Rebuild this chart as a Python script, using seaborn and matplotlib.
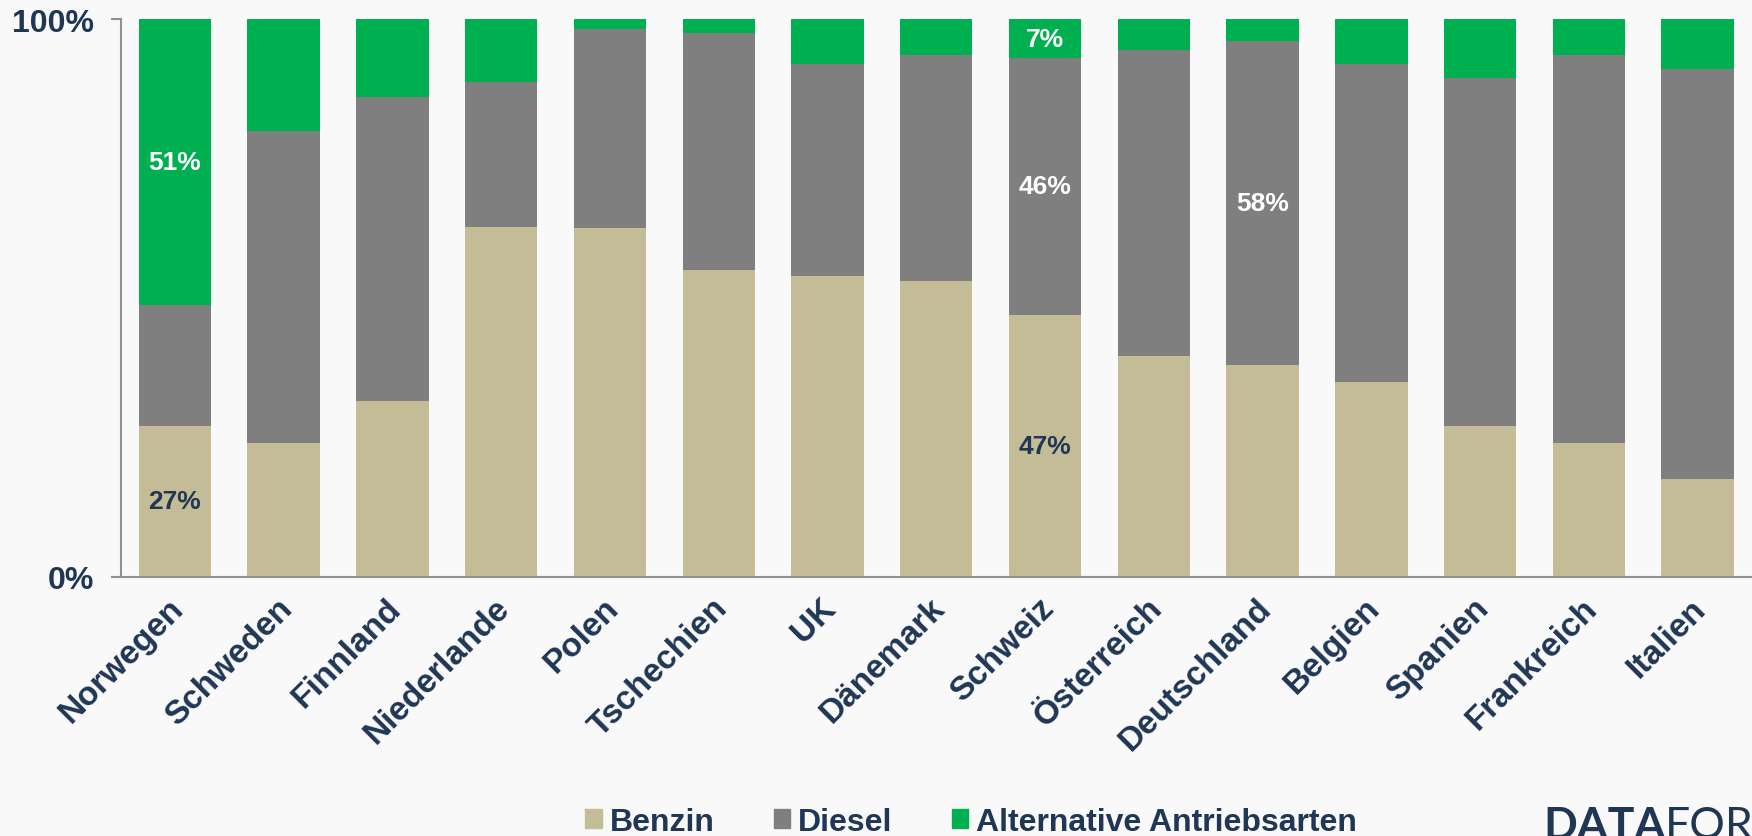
import numpy as np
import matplotlib.pyplot as plt
import matplotlib.transforms as mtransforms
from matplotlib.patches import Patch
import seaborn as sns

laender = ['Norwegen', 'Schweden', 'Finnland', 'Niederlande', 'Polen', 'Tschechien', 'UK',
           'Dänemark', 'Schweiz', 'Österreich', 'Deutschland', 'Belgien', 'Spanien',
           'Frankreich', 'Italien']
benzin = [27, 24, 31.5, 62.7, 62.5, 55, 54, 53, 47, 39.5, 38, 35, 27, 24, 17.5]
diesel = [21.7, 56, 54.5, 26, 35.7, 42.5, 38, 40.5, 46, 55, 58, 57, 62.5, 69.5, 73.5]
alternativ = [51.3, 20, 14, 11.3, 1.8, 2.5, 8, 6.5, 7, 5.5, 4, 8, 10.5, 6.5, 9]

# nur diese Werte sind im Original beschriftet: (Land, Serie)
beschriftet = [('Norwegen', 'benzin'), ('Norwegen', 'alternativ'), ('Schweiz', 'benzin'),
               ('Schweiz', 'diesel'), ('Schweiz', 'alternativ'), ('Deutschland', 'diesel')]

navy = '#1F3655'
c_benzin = '#C4BC96'
c_diesel = '#7F7F7F'
c_alt = '#00B050'
bg = '#F9F9F9'

sns.set_style('white')
plt.rcParams['font.family'] = ['Liberation Sans', 'DejaVu Sans']

fig = plt.figure(figsize=(17.52, 8.37), dpi=100, facecolor=bg)
ax = fig.add_axes([0.0688, 0.3098, 0.9312, 0.6663])
ax.set_facecolor(bg)

b = np.array(benzin)
d = np.array(diesel)
a = np.array(alternativ)

# gestapelt durch Überlagern der kumulierten Summen
sns.barplot(x=laender, y=b + d + a, color=c_alt, width=0.666, saturation=1, linewidth=0, ax=ax)
sns.barplot(x=laender, y=b + d, color=c_diesel, width=0.666, saturation=1, linewidth=0, ax=ax)
sns.barplot(x=laender, y=b, color=c_benzin, width=0.666, saturation=1, linewidth=0, ax=ax)

ax.set_xlim(-0.5, 14.5)
ax.set_ylim(0, 100)
ax.set_yticks([0, 100])
ax.set_yticklabels(['0%', '100%'])
ax.set_xlabel('')
ax.set_ylabel('')

for s in ['top', 'right']:
    ax.spines[s].set_visible(False)
for s in ['left', 'bottom']:
    ax.spines[s].set_color('#8C9099')
    ax.spines[s].set_linewidth(1.5)

ax.tick_params(axis='y', length=7, width=1.5, color='#8C9099', pad=12,
               labelsize=23, labelcolor=navy, left=True)
ax.tick_params(axis='x', length=0, pad=19, labelsize=24, labelcolor=navy)
for lbl in ax.get_yticklabels():
    lbl.set_fontweight('bold')
offset = mtransforms.ScaledTranslation(4 / 100, 0, fig.dpi_scale_trans)
for lbl in ax.get_xticklabels():
    lbl.set_fontweight('bold')
    lbl.set_rotation(45)
    lbl.set_ha('right')
    lbl.set_va('center')
    lbl.set_rotation_mode('anchor')
    lbl.set_transform(lbl.get_transform() + offset)

for land, serie in beschriftet:
    i = laender.index(land)
    if serie == 'benzin':
        y, wert, col = b[i] / 2, benzin[i], navy
    elif serie == 'diesel':
        y, wert, col = b[i] + d[i] / 2, diesel[i], 'white'
    else:
        y, wert, col = b[i] + d[i] + a[i] / 2, alternativ[i], 'white'
    ax.text(i, y, f'{wert:.0f}%', ha='center', va='center', fontsize=19,
            fontweight='bold', color=col)

handles = [Patch(color=c_benzin, label='Benzin'),
           Patch(color=c_diesel, label='Diesel'),
           Patch(color=c_alt, label='Alternative Antriebsarten')]
leg = fig.legend(handles=handles, loc='center left', bbox_to_anchor=(0.334, 0.017),
                 ncol=3, frameon=False, fontsize=23, handlelength=0.52, handleheight=0.52,
                 handletextpad=0.25, columnspacing=1.85, borderaxespad=0, borderpad=0)
for t in leg.get_texts():
    t.set_color(navy)
    t.set_fontweight('bold')

# Logo (am rechten Rand und unten abgeschnitten, wie im Original)
logo = fig.text(0.8807, -0.002, 'DATA', fontsize=32, fontweight='bold', color=navy,
                ha='left', va='baseline', family=['Lato', 'DejaVu Sans'])
fig.canvas.draw()
ext = logo.get_window_extent(fig.canvas.get_renderer())
fig.text(ext.x1 / fig.bbox.width, -0.002, 'FOR', fontsize=32, fontweight='normal',
         color=navy, ha='left', va='baseline', family=['Lato', 'DejaVu Sans'])

fig.savefig('out.png', dpi=100, facecolor=bg)
